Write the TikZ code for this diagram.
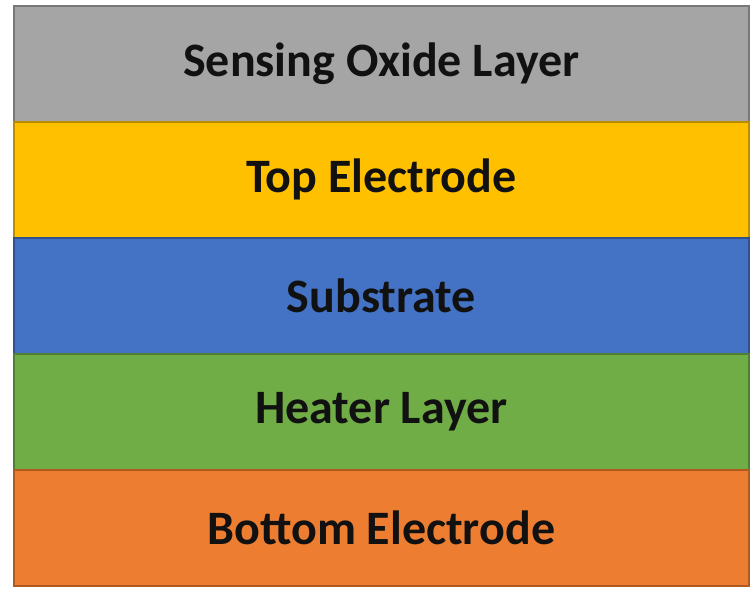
\documentclass[tikz,border=0pt]{standalone}
\usepackage{fontspec}
\setmainfont{Carlito}
\definecolor{lgray}{HTML}{A5A5A5}
\definecolor{lgrayd}{HTML}{787878}
\definecolor{lyel}{HTML}{FFC000}
\definecolor{lyeld}{HTML}{BC8C00}
\definecolor{lblue}{HTML}{4472C4}
\definecolor{lblued}{HTML}{2F528F}
\definecolor{lgreen}{HTML}{70AD47}
\definecolor{lgreend}{HTML}{507E32}
\definecolor{lorange}{HTML}{ED7D31}
\definecolor{lorangd}{HTML}{AE5A21}
\definecolor{txt}{HTML}{111111}
\tikzset{
  layer/.style={draw=#1, line width=1.6pt, minimum width=735pt, minimum height=116pt,
    inner sep=0pt, font=\fontsize{48}{56}\selectfont\bfseries, text=txt, anchor=north west}
}
\begin{document}
\begin{tikzpicture}[x=1pt,y=1pt]
\useasboundingbox (0,0) rectangle (756,597);
\node[layer=lgrayd, fill=lgray] (oxide) at (13,592) {Sensing Oxide Layer};
\node[layer=lyeld, fill=lyel] (top) at (13,476) {Top Electrode};
\node[layer=lblued, fill=lblue] (sub) at (13,360) {Substrate};
\node[layer=lgreend, fill=lgreen] (heat) at (13,244) {Heater Layer};
\node[layer=lorangd, fill=lorange] (bot) at (13,128) {Bottom Electrode};
\end{tikzpicture}
\end{document}
